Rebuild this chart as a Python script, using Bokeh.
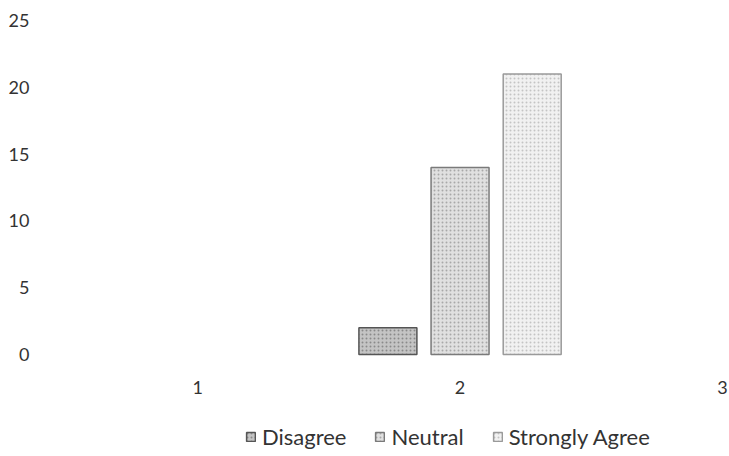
from bokeh.plotting import figure
from bokeh.models import ColumnDataSource, Range1d, FixedTicker, Legend, LegendItem
from bokeh.transform import dodge
from bokeh.embed import file_html
from bokeh.resources import INLINE

categories = [1, 2, 3]
series_names = ["Disagree", "Neutral", "Strongly Agree"]
disagree = [0, 2, 0]
neutral = [0, 14, 0]
strongly_agree = [0, 21, 0]
y_ticks = [0, 5, 10, 15, 20, 25]

FONT = "Lato"

p = figure(width=729, height=456, output_backend="svg", toolbar_location=None,
           x_range=Range1d(0.439, 3.027), y_range=Range1d(-7.63, 25.6),
           min_border_left=50, min_border_right=0, min_border_top=12, min_border_bottom=0)
p.outline_line_color = None
p.background_fill_color = "white"
p.xgrid.visible = False
p.ygrid.visible = False

styles = [
    dict(fill_color="#c4c4c4", line_color="#555555", hatch_color="#8a8a8a"),
    dict(fill_color="#e0e0e0", line_color="#7a7a7a", hatch_color="#a8a8a8"),
    dict(fill_color="#f1f1f1", line_color="#9a9a9a", hatch_color="#c4c4c4"),
]
offsets = [-0.275, 0.0, 0.275]
items = []
for name, vals, st, off in zip(series_names, [disagree, neutral, strongly_agree], styles, offsets):
    xs = [c for c, v in zip(categories, vals) if v > 0]
    ys = [v for v in vals if v > 0]
    src = ColumnDataSource(dict(x=xs, top=ys))
    r = p.vbar(x=dodge("x", off), top="top", bottom=0, width=0.221, source=src,
               fill_color=st["fill_color"], line_color=st["line_color"], line_width=1.5,
               hatch_pattern="dot", hatch_color=st["hatch_color"], hatch_scale=4, hatch_weight=1)
    items.append(LegendItem(label=name, renderers=[r]))

p.xaxis.fixed_location = 0
p.xaxis.ticker = FixedTicker(ticks=categories)
p.xaxis.axis_line_color = None
p.xaxis.major_tick_line_color = None
p.xaxis.minor_tick_line_color = None
p.xaxis.major_label_standoff = 20
p.xaxis.major_label_text_font = FONT
p.xaxis.major_label_text_font_size = "18px"
p.xaxis.major_label_text_color = "#333333"

p.yaxis.ticker = FixedTicker(ticks=y_ticks)
p.yaxis.axis_line_color = None
p.yaxis.major_tick_line_color = None
p.yaxis.minor_tick_line_color = None
p.yaxis.major_label_standoff = 15
p.yaxis.major_label_text_font = FONT
p.yaxis.major_label_text_font_size = "18px"
p.yaxis.major_label_text_color = "#333333"

legend = Legend(items=items, orientation="horizontal", location=(195, 6),
                padding=2, margin=0, spacing=28, label_standoff=6,
                glyph_width=11, glyph_height=11, label_height=20,
                label_text_font=FONT, label_text_font_size="22px", label_text_color="#333333",
                border_line_color=None, background_fill_alpha=0)
p.add_layout(legend, "center")

open("out.html", "w").write(file_html(p, INLINE))
